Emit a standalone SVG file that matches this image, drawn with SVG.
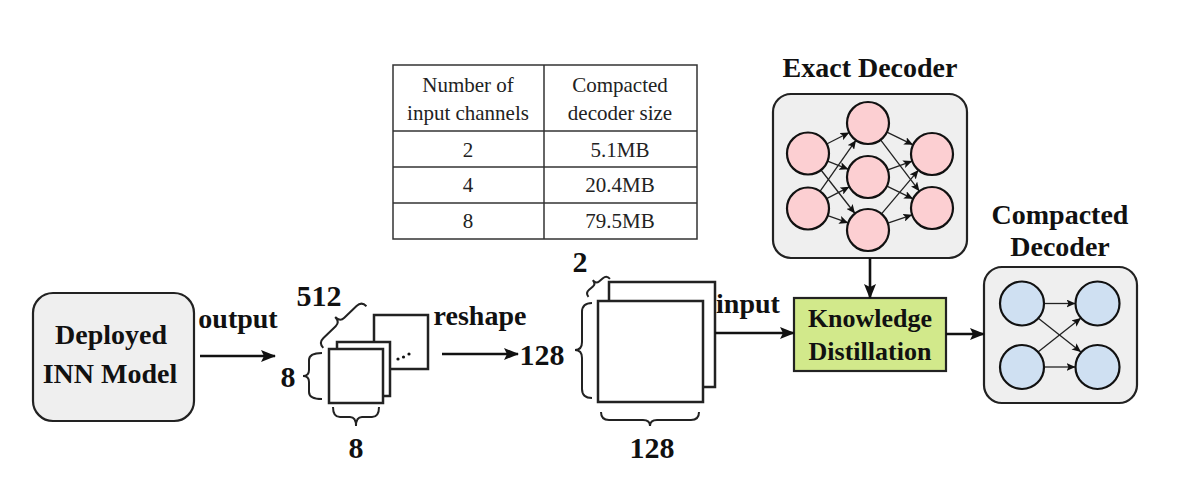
<svg xmlns="http://www.w3.org/2000/svg" width="1190" height="488" viewBox="0 0 1190 488">
<style>
.box{fill:#efefef;stroke:#222;stroke-width:2.2}
.t{font-family:"Liberation Serif","Times New Roman",serif;font-weight:bold;fill:#111;text-anchor:middle}
.tb{font-size:28px}
.tn{font-size:30px}
.tr{font-family:"Liberation Serif","Times New Roman",serif;font-size:21px;fill:#222;text-anchor:middle}
.sq{fill:#fff;stroke:#222;stroke-width:2.5}
.br{fill:none;stroke:#222;stroke-width:2}
.ar{fill:none;stroke:#111;stroke-width:2.6}
.ne{fill:none;stroke:#222;stroke-width:1.3}
.pk{fill:#fccfd2;stroke:#111;stroke-width:2.2}
.bl{fill:#cfe0f2;stroke:#111;stroke-width:2.2}
.tl{fill:none;stroke:#333;stroke-width:1.5}
</style>
<defs>
<marker id="ah" markerUnits="userSpaceOnUse" markerWidth="15" markerHeight="12" refX="14" refY="6" orient="auto">
<path d="M0,0 L15,6 L0,12 L3,6 Z" fill="#111"/>
</marker>
<marker id="as" markerUnits="userSpaceOnUse" markerWidth="9" markerHeight="8" refX="9" refY="4" orient="auto">
<path d="M0,0 L9,4 L0,8 L2,4 Z" fill="#111"/>
</marker>
</defs>

<g id="table">
<rect x="393" y="65" width="304" height="174" fill="#fff" class="tl"/>
<line x1="544" y1="65" x2="544" y2="239" class="tl"/>
<line x1="393" y1="131" x2="697" y2="131" class="tl"/>
<line x1="393" y1="167" x2="697" y2="167" class="tl"/>
<line x1="393" y1="203" x2="697" y2="203" class="tl"/>
<text class="tr" x="468" y="92">Number of</text>
<text class="tr" x="468" y="120">input channels</text>
<text class="tr" x="620" y="92">Compacted</text>
<text class="tr" x="620" y="120">decoder size</text>
<text class="tr" x="468" y="157">2</text>
<text class="tr" x="620" y="157">5.1MB</text>
<text class="tr" x="468" y="192">4</text>
<text class="tr" x="620" y="192">20.4MB</text>
<text class="tr" x="468" y="228">8</text>
<text class="tr" x="620" y="228">79.5MB</text>
</g>

<g id="deployed">
<rect x="33" y="293" width="161" height="128" rx="20" class="box"/>
<text class="t" font-size="28" x="111" y="344">Deployed</text>
<text class="t" font-size="28" x="110" y="383">INN Model</text>
</g>

<g id="stack8">
<rect x="374" y="315" width="54" height="54" class="sq"/>
<rect x="337" y="342" width="53" height="54" class="sq"/>
<rect x="329" y="349" width="54" height="54" class="sq"/>
<circle cx="398" cy="359" r="1.6" fill="#111"/>
<circle cx="403.5" cy="357" r="1.6" fill="#111"/>
<circle cx="409" cy="354" r="1.6" fill="#111"/>
<path class="br" d="M322,353 Q309,353 309,360 L309,370 Q309,376 303,376 Q309,376 309,382 L309,392 Q309,399 322,399"/>
<path class="br" d="M333,407 Q333,417 340,417 L350,417 Q356,417 356,426 Q356,417 362,417 L372,417 Q379,417 379,407"/>
<path class="br" transform="translate(340,322) rotate(-44)" d="M-30,7 Q-30,0 -23,0 L-6,0 Q0,0 0,-7 Q0,0 6,0 L23,0 Q30,0 30,7"/>
<text class="t tn" x="319" y="306">512</text>
<text class="t tn" x="288" y="387">8</text>
<text class="t tn" x="356" y="458">8</text>
</g>

<g id="stack128">
<rect x="609" y="282" width="106" height="105" class="sq"/>
<rect x="598" y="301" width="105" height="101" class="sq"/>
<path class="br" d="M592,303 Q582,303 582,312 L582,342 Q582,350 575,350 Q582,350 582,358 L582,389 Q582,398 592,398"/>
<path class="br" d="M601,412 Q601,420 609,420 L643,420 Q650,420 650,426 Q650,420 657,420 L691,420 Q699,420 699,412"/>
<path class="br" transform="translate(596,284) rotate(-40)" d="M-14,5 Q-14,0 -9,0 L-4,0 Q0,0 0,-5 Q0,0 4,0 L9,0 Q14,0 14,5"/>
<text class="t tn" x="580" y="272">2</text>
<text class="t tn" x="542" y="365">128</text>
<text class="t tn" x="652" y="458">128</text>
</g>

<g id="exact">
<text class="t tb" x="870" y="77">Exact Decoder</text>
<rect x="773" y="94" width="194" height="164" rx="18" class="box"/>
<g>
<line class="ne" marker-end="url(#as)" x1="826.7" y1="144" x2="849.3" y2="132.5"/>
<line class="ne" marker-end="url(#as)" x1="827.6" y1="161.2" x2="848.4" y2="169.3"/>
<line class="ne" marker-end="url(#as)" x1="821" y1="170" x2="855" y2="213.5"/>
<line class="ne" marker-end="url(#as)" x1="820" y1="191.3" x2="856" y2="140.2"/>
<line class="ne" marker-end="url(#as)" x1="826.6" y1="198.7" x2="849.4" y2="186.8"/>
<line class="ne" marker-end="url(#as)" x1="827.8" y1="215.6" x2="848.2" y2="222.9"/>
<line class="ne" marker-end="url(#as)" x1="886.9" y1="132.2" x2="913.1" y2="144.8"/>
<line class="ne" marker-end="url(#as)" x1="880.6" y1="139.8" x2="919.4" y2="191.2"/>
<line class="ne" marker-end="url(#as)" x1="887.8" y1="169.9" x2="912.2" y2="161.1"/>
<line class="ne" marker-end="url(#as)" x1="886.9" y1="186.2" x2="913.1" y2="198.8"/>
<line class="ne" marker-end="url(#as)" x1="881.5" y1="213.9" x2="918.5" y2="170.1"/>
<line class="ne" marker-end="url(#as)" x1="887.8" y1="223.2" x2="912.2" y2="214.8"/>
</g>
<circle class="pk" cx="808" cy="153.5" r="21"/>
<circle class="pk" cx="808" cy="208.5" r="21"/>
<circle class="pk" cx="868" cy="123" r="21"/>
<circle class="pk" cx="868" cy="177" r="21"/>
<circle class="pk" cx="868" cy="230" r="21"/>
<circle class="pk" cx="932" cy="154" r="21"/>
<circle class="pk" cx="932" cy="208" r="21"/>
</g>

<g id="kd">
<rect x="794" y="298" width="152" height="73" fill="#d2e98b" stroke="#222" stroke-width="2.2"/>
<text class="t" font-size="26" x="870" y="327">Knowledge</text>
<text class="t" font-size="26" x="870" y="360">Distillation</text>
</g>

<g id="compacted">
<text class="t tb" x="1060" y="224">Compacted</text>
<text class="t tb" x="1060" y="256">Decoder</text>
<rect x="984" y="267" width="153" height="136" rx="18" class="box"/>
<line class="ne" marker-end="url(#as)" x1="1044" y1="303.5" x2="1075.5" y2="303.5"/>
<line class="ne" marker-end="url(#as)" x1="1044" y1="367" x2="1075.5" y2="367"/>
<line class="ne" marker-end="url(#as)" x1="1038" y1="318" x2="1081" y2="352"/>
<line class="ne" marker-end="url(#as)" x1="1038" y1="352" x2="1081" y2="318"/>
<circle class="bl" cx="1022" cy="303.5" r="22"/>
<circle class="bl" cx="1022" cy="367" r="22"/>
<circle class="bl" cx="1097.5" cy="303.5" r="22"/>
<circle class="bl" cx="1097.5" cy="367" r="22"/>
</g>

<g id="connectors">
<line class="ar" marker-end="url(#ah)" x1="200" y1="356" x2="275" y2="356"/>
<text class="t tb" x="238" y="328">output</text>
<line class="ar" marker-end="url(#ah)" x1="442" y1="354" x2="518" y2="354"/>
<text class="t tb" x="480" y="325">reshape</text>
<line class="ar" marker-end="url(#ah)" x1="715" y1="333" x2="794" y2="333"/>
<text class="t tb" x="748" y="313">input</text>
<line class="ar" marker-end="url(#ah)" x1="870" y1="258" x2="870" y2="298"/>
<line class="ar" marker-end="url(#ah)" x1="946" y1="334" x2="984" y2="334"/>
</g>
</svg>
